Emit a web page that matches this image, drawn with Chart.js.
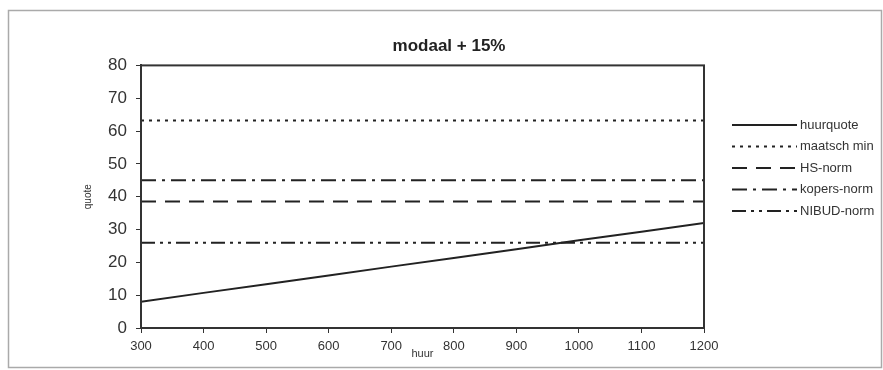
<!DOCTYPE html>
<html>
<head>
<meta charset="utf-8">
<script src="https://cdn.jsdelivr.net/npm/chart.js@4/dist/chart.umd.min.js"></script>
<style>
  html, body { margin: 0; padding: 0; background: #fff; }
  #wrap { width: 883px; height: 370px; }
</style>
</head>
<body>
<div id="wrap"><canvas id="myChart" width="883" height="370"></canvas></div>
<script>
// huur (x) en quotes per reeks
const huur = [300, 400, 500, 600, 700, 800, 900, 1000, 1100, 1200];
const huurquote = [8, 10.7, 13.3, 16, 18.7, 21.3, 24, 26.7, 29.3, 32];
const maatschMin = [63.2, 63.2, 63.2, 63.2, 63.2, 63.2, 63.2, 63.2, 63.2, 63.2];
const hsNorm = [38.5, 38.5, 38.5, 38.5, 38.5, 38.5, 38.5, 38.5, 38.5, 38.5];
const kopersNorm = [45, 45, 45, 45, 45, 45, 45, 45, 45, 45];
const nibudNorm = [26, 26, 26, 26, 26, 26, 26, 26, 26, 26];

const reeksen = [
  { label: "huurquote", data: huurquote, dash: [] },
  { label: "maatsch min", data: maatschMin, dash: [3, 5] },
  { label: "HS-norm", data: hsNorm, dash: [15, 9] },
  { label: "kopers-norm", data: kopersNorm, dash: [15, 6, 3, 6] },
  { label: "NIBUD-norm", data: nibudNorm, dash: [14, 5, 3, 5, 3, 5] },
];

const lijnKleur = "#222";
const fontFam = "'Liberation Sans', Arial, sans-serif";

// legenda rechts, met gestreepte lijnvoorbeelden
const legendaPlugin = {
  id: "legenda",
  afterDraw(chart) {
    const ctx = chart.ctx;
    ctx.save();
    chart.data.datasets.forEach((ds, i) => {
      const y = 125 + i * 21.5;
      ctx.strokeStyle = lijnKleur;
      ctx.lineWidth = 2;
      ctx.setLineDash(ds.borderDash || []);
      ctx.beginPath();
      ctx.moveTo(732, y);
      ctx.lineTo(797, y);
      ctx.stroke();
      ctx.setLineDash([]);
      ctx.fillStyle = "#333";
      ctx.font = "13px " + fontFam;
      ctx.textBaseline = "middle";
      ctx.fillText(ds.label, 800, y);
    });
    ctx.restore();
  },
};

// kader rond plotgebied en rond de hele grafiek
const kaderPlugin = {
  id: "kader",
  beforeDraw(chart) {
    const ctx = chart.ctx;
    ctx.save();
    ctx.fillStyle = "#fff";
    ctx.fillRect(0, 0, chart.width, chart.height);
    ctx.strokeStyle = "#aaa";
    ctx.lineWidth = 1.5;
    ctx.strokeRect(8.5, 10.5, 873, 357);
    ctx.restore();
  },
  afterDatasetsDraw(chart) {
    const a = chart.chartArea;
    const ctx = chart.ctx;
    ctx.save();
    ctx.strokeStyle = "#333";
    ctx.lineWidth = 2;
    ctx.strokeRect(a.left, a.top, a.right - a.left, a.bottom - a.top);
    ctx.restore();
  },
};

new Chart(document.querySelector("#myChart"), {
  type: "line",
  data: {
    labels: huur,
    datasets: reeksen.map((r) => ({
      label: r.label,
      data: r.data.map((v, i) => ({ x: huur[i], y: v })),
      borderColor: lijnKleur,
      borderWidth: 2,
      borderDash: r.dash,
      pointRadius: 0,
      fill: false,
      tension: 0,
    })),
  },
  options: {
    responsive: false,
    animation: false,
    layout: { padding: { left: 80, right: 65, top: 24, bottom: 8 } },
    plugins: {
      legend: { display: false },
      tooltip: { enabled: false },
      title: {
        display: true,
        text: "modaal + 15%",
        color: "#222",
        font: { family: fontFam, size: 17, weight: "bold" },
        padding: { top: 12, bottom: 9 },
      },
    },
    scales: {
      x: {
        type: "linear",
        min: 300,
        max: 1200,
        afterFit: (axis) => { axis.height = 34; },
        ticks: {
          stepSize: 100,
          color: "#333",
          padding: 6,
          maxRotation: 0,
          font: { family: fontFam, size: 13 },
          callback: (v) => String(v),
        },
        grid: { drawOnChartArea: false, tickLength: 5, color: "#333" },
        border: { color: "#333", width: 2 },
        title: {
          display: true,
          text: "huur",
          color: "#333",
          font: { family: fontFam, size: 11 },
          padding: { top: 0, bottom: 1.5 },
        },
      },
      y: {
        min: 0,
        max: 80,
        afterFit: (axis) => { axis.width = 61; },
        ticks: {
          stepSize: 10,
          color: "#333",
          padding: 9,
          font: { family: fontFam, size: 17 },
        },
        grid: { drawOnChartArea: false, tickLength: 5, color: "#333" },
        border: { color: "#333", width: 2 },
        title: {
          display: true,
          text: "quote",
          color: "#333",
          font: { family: fontFam, size: 10 },
          padding: { top: 2, bottom: 0 },
        },
      },
      // lege as rechts: ruimte voor de legenda
      ruimte: {
        position: "right",
        min: 0,
        max: 80,
        afterFit: (axis) => { axis.width = 114; },
        ticks: { display: false },
        grid: { display: false },
        border: { display: false },
      },
    },
  },
  plugins: [kaderPlugin, legendaPlugin],
});
</script>
</body>
</html>
